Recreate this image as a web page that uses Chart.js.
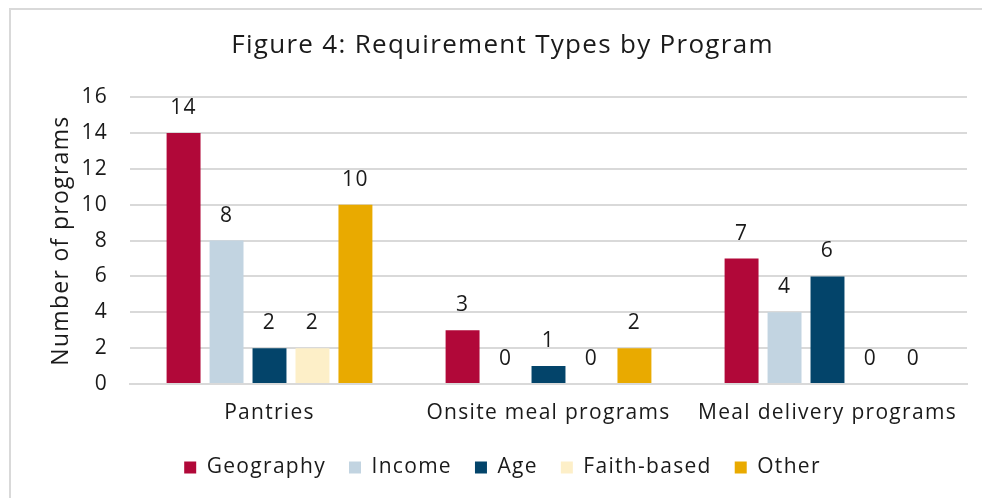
<!DOCTYPE html>
<html>
<head>
<meta charset="utf-8">
<script src="https://cdn.jsdelivr.net/npm/chart.js@4.4.1/dist/chart.umd.min.js"></script>
<style>
html,body{margin:0;padding:0;background:#fff;}
#wrap{position:relative;width:982px;height:498px;}
</style>
</head>
<body>
<div id="wrap"><canvas id="c" width="982" height="498"></canvas></div>
<script>
const categories = ["Pantries", "Onsite meal programs", "Meal delivery programs"];
const seriesNames = ["Geography", "Income", "Age", "Faith-based", "Other"];
const geography = [14, 3, 7];
const income = [8, 0, 4];
const age = [2, 1, 6];
const faithBased = [2, 0, 0];
const other = [10, 2, 0];
const yTicks = [0, 2, 4, 6, 8, 10, 12, 14, 16];
const colors = ["#B10839", "#C2D4E1", "#03446A", "#FDEFC8", "#E9AA00"];

const FONT = "'Open Sans', Lato, sans-serif";
const SPACING = '1.3px';

const spacingPlugin = {
  id: 'spacing',
  beforeInit(chart) { chart.ctx.letterSpacing = SPACING; },
  beforeLayout(chart) { chart.ctx.letterSpacing = SPACING; },
  beforeDraw(chart) { chart.ctx.letterSpacing = SPACING; }
};

const borderPlugin = {
  id: 'frame',
  beforeDraw(chart) {
    const ctx = chart.ctx;
    ctx.save();
    ctx.fillStyle = '#fff';
    ctx.fillRect(0, 0, chart.width, chart.height);
    ctx.strokeStyle = '#d9d9d9';
    ctx.lineWidth = 2;
    ctx.beginPath();
    ctx.moveTo(10, chart.height);
    ctx.lineTo(10, 9);
    ctx.lineTo(chart.width, 9);
    ctx.stroke();
    ctx.restore();
  }
};

const labelPlugin = {
  id: 'valueLabels',
  afterDatasetsDraw(chart) {
    const ctx = chart.ctx;
    ctx.save();
    ctx.font = "21px " + FONT;
    ctx.fillStyle = '#1a1a1a';
    ctx.textAlign = 'center';
    ctx.textBaseline = 'middle';
    chart.data.datasets.forEach((ds, i) => {
      const meta = chart.getDatasetMeta(i);
      meta.data.forEach((bar, j) => {
        ctx.fillText(String(ds.data[j]), bar.x, bar.y - 25);
      });
    });
    ctx.restore();
  }
};

const dataArrays = [geography, income, age, faithBased, other];

new Chart(document.getElementById('c'), {
  type: 'bar',
  data: {
    labels: categories,
    datasets: seriesNames.map((n, i) => ({
      label: n,
      data: dataArrays[i],
      backgroundColor: colors[i],
      borderWidth: 0,
      categoryPercentage: 0.77,
      barPercentage: 0.79
    }))
  },
  options: {
    responsive: false,
    animation: false,
    devicePixelRatio: 1,
    layout: { padding: { left: 38, right: 15, top: 0, bottom: 10 } },
    plugins: {
      title: {
        display: true,
        text: "Figure 4: Requirement Types by Program",
        color: '#1a1a1a',
        font: { family: FONT, size: 26, weight: 'normal' },
        padding: { top: 30, bottom: 36 }
      },
      legend: {
        position: 'bottom',
        labels: {
          color: '#1a1a1a',
          font: { family: FONT, size: 21 },
          boxWidth: 12,
          boxHeight: 12,
          padding: 23
        }
      },
      tooltip: { enabled: false }
    },
    scales: {
      x: {
        grid: { display: false },
        border: { display: true, color: '#d9d9d9', width: 2 },
        ticks: { color: '#1a1a1a', font: { family: FONT, size: 21 }, padding: 8, maxRotation: 0 },
        afterFit(s) { s.height = 50; }
      },
      y: {
        min: 0, max: 16,
        afterBuildTicks(s) { s.ticks = yTicks.map(v => ({ value: v })); },
        grid: { color: '#d9d9d9', lineWidth: 2, drawTicks: false },
        border: { display: false },
        ticks: { color: '#1a1a1a', font: { family: FONT, size: 21 }, padding: 22 },
        title: {
          display: true,
          text: "Number of programs",
          color: '#1a1a1a',
          font: { family: FONT, size: 23 },
          padding: { top: 10, bottom: 0 }
        },
        afterFit(s) { s.width = 92; }
      }
    }
  },
  plugins: [spacingPlugin, borderPlugin, labelPlugin]
});
</script>
</body>
</html>
